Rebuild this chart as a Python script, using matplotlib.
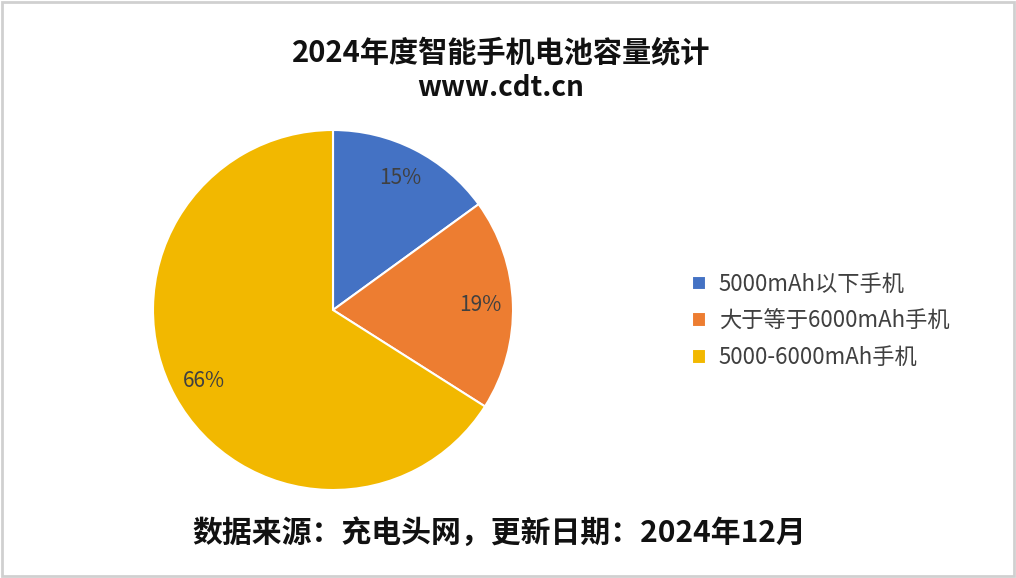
import matplotlib.pyplot as plt
from matplotlib.patches import Rectangle

plt.rcParams['font.family'] = ['Noto Sans CJK SC', 'DejaVu Sans']

# data
labels = ["5000mAh以下手机", "大于等于6000mAh手机", "5000-6000mAh手机"]
shares = [15, 19, 66]
colors = ["#4472C4", "#ED7D31", "#F2B800"]

fig = plt.figure(figsize=(10.16, 5.78), dpi=100)
fig.patch.set_facecolor("white")

# pie axes (centre ~ (333,310) px, radius ~180 px)
cx, cy = 333 / 1016, 1 - 310 / 578
hw, hh = 180 / 1016, 180 / 578
ax = fig.add_axes([cx - hw, cy - hh, 2 * hw, 2 * hh])
wedges, texts, autotexts = ax.pie(
    shares, colors=colors, startangle=90, counterclock=False,
    autopct="%d%%", pctdistance=0.82, radius=1,
    wedgeprops=dict(edgecolor="white", linewidth=1.5),
    textprops=dict(fontsize=15, color="#404040"))
ax.set_xlim(-1, 1)
ax.set_ylim(-1, 1)
ax.set_aspect("equal")
ax.axis("off")

# legend
fig.legend(wedges, labels, loc="center left", bbox_to_anchor=(672 / 1016, 1 - 321 / 578),
           frameon=False, fontsize=16, handlelength=0.65, handleheight=0.65,
           handletextpad=0.55, labelspacing=0.62, labelcolor="#404040")

# titles
fig.text(0.493, 1 - 52 / 578, "2024年度智能手机电池容量统计", ha="center", va="center",
         fontsize=21, fontweight="bold", color="#111111")
fig.text(0.493, 1 - 88 / 578, "www.cdt.cn", ha="center", va="center",
         fontsize=20, fontweight="bold", color="#111111")
fig.text(499 / 1016, 1 - 533 / 578, "数据来源：充电头网，更新日期：2024年12月", ha="center", va="center",
         fontsize=21.5, fontweight="bold", color="#111111")

# light frame around the picture
fig.patches.append(Rectangle((0.002, 0.003), 0.996, 0.994, transform=fig.transFigure,
                             fill=False, edgecolor="#D0D0D0", linewidth=2))

fig.savefig("out.png", dpi=100)
